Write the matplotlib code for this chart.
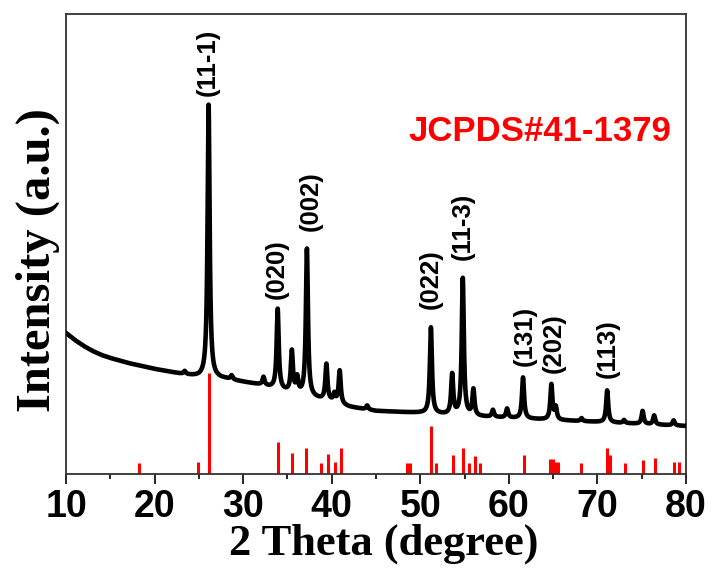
#!/usr/bin/env python3

import matplotlib
matplotlib.use('Agg')
import matplotlib.pyplot as plt
import numpy as np

################################################################################

base_theta = [10, 11, 12, 13, 14, 15, 17, 20, 23, 25, 28, 30, 32, 35, 38, 40,
              42, 45, 50, 55, 60, 65, 70, 75, 80]
base_level = [141, 134, 128, 123, 119, 116, 111, 105, 100, 97, 95, 92, 89, 82,
              76, 72, 67, 63, 61, 58, 56, 54, 52, 50, 48]

# diffraction peaks of the sample: position, height above background
peak_theta = [23.4, 28.7, 32.3, 26.1, 33.9, 35.5, 36.1, 37.2, 39.4, 40.3, 40.9,
              44.0, 51.2, 53.6, 54.8, 56.0, 58.2, 59.8, 61.6, 64.8, 65.3, 68.2,
              71.1, 73.0, 75.1, 76.4, 78.6]
peak_height = [3, 4, 8, 273, 80, 41, 15, 147, 36, 8, 33,
               4, 86, 40, 137, 26, 7, 9, 41, 35, 12, 3,
               32, 3, 13, 9, 5]

# standard card JCPDS#41-1379: position, relative height
card_theta = [18.28, 24.87, 26.15, 33.9, 35.48, 37.13, 38.83, 39.62, 40.41,
              41.05, 48.55, 48.8, 51.2, 51.74, 53.73, 54.82, 55.46, 56.18,
              56.74, 61.75, 64.7, 64.95, 65.25, 65.5, 68.14, 71.04, 71.42,
              73.07, 75.18, 76.5, 78.68, 79.24]
card_height = [11, 12, 101, 32, 21, 26, 11, 20, 12,
               26, 11, 11, 48, 11, 19, 26, 11, 18,
               11, 19, 15, 15, 12, 12, 11, 26, 19,
               11, 14, 16, 12, 12]

# miller indices written above the peaks
hkl_labels = ['(11-1)', '(020)', '(002)', '(022)', '(11-3)', '(131)', '(202)', '(113)']
hkl_theta = [26.03, 33.82, 37.66, 51.21, 54.82, 61.77, 65.1, 71.14]
hkl_y = [378, 175, 243, 165, 214, 108, 101, 96]

################################################################################

def pattern(theta):
	'''
	Build the measured curve from background and lorentzian peaks.
	'''

	curve = np.interp(theta, base_theta, base_level)
	gamma = 0.14
	for pos, h in zip(peak_theta, peak_height):
		curve += h * gamma ** 2 / ((theta - pos) ** 2 + gamma ** 2)

	return curve


################################################################################

if __name__ == '__main__':

	theta = np.linspace(10, 80, 7001)
	intensity = pattern(theta)

	fig = plt.figure(figsize = (7.16, 5.74), dpi = 100)
	ax = fig.add_axes([66 / 716, 100 / 574, 620 / 716, 460 / 574])

	ax.vlines(card_theta, 0, card_height, colors = '#ff0000', linewidth = 2.2, zorder = 2)
	ax.plot(theta, intensity, color = 'k', linewidth = 3.3, zorder = 3)

	for label, x, y in zip(hkl_labels, hkl_theta, hkl_y):
		ax.text(x, y, label, rotation = 90, ha = 'center', va = 'bottom',
			fontsize = 18.5, fontweight = 'bold', family = 'Liberation Sans')

	ax.text(0.764, 0.744, 'JCPDS#41-1379', transform = ax.transAxes, ha = 'center',
		va = 'center', color = '#ff0000', fontsize = 25, fontweight = 'bold',
		family = 'Liberation Sans')

	# beautification
	ax.set_xlim(10, 80)
	ax.set_ylim(0, 460)
	ax.set_xticks(np.arange(10, 81, 10))
	ax.set_xticks(np.arange(15, 80, 10), minor = True)
	ax.set_yticks([])
	ax.tick_params(axis = 'x', which = 'major', direction = 'out', length = 7, width = 1.2, pad = 4)
	ax.tick_params(axis = 'x', which = 'minor', direction = 'out', length = 3.6, width = 1.2)
	for lab in ax.get_xticklabels():
		lab.set_fontsize(27)
		lab.set_fontweight('bold')
		lab.set_family('Liberation Sans')
	for spine in ax.spines.values():
		spine.set_linewidth(1.3)
		spine.set_color('#333333')

	ax.set_xlabel('2 Theta (degree)', fontsize = 32, fontweight = 'bold', family = 'Liberation Serif')
	ax.xaxis.set_label_coords(0.513, -0.108)
	ax.set_ylabel('Intensity (a.u.)', fontsize = 35, fontweight = 'bold', family = 'Liberation Serif')
	ax.yaxis.set_label_coords(-0.0097, 0.465)

	fig.savefig('out.png', dpi = 100)
